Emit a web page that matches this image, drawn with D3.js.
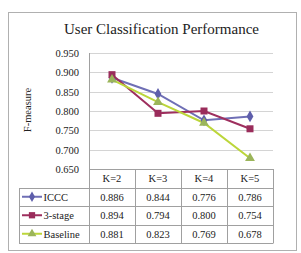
<!DOCTYPE html>
<html><head><meta charset="utf-8">
<script src="https://cdn.jsdelivr.net/npm/d3@7"></script>
<style>body{margin:0;background:#fff}svg{display:block}svg text{font-family:'Liberation Serif','Times New Roman',Tinos !important;fill:#222}</style>
</head><body>
<script>
const categories = ["K=2","K=3","K=4","K=5"];
const seriesNames = ["ICCC","3-stage","Baseline"];
const iccc = [0.886,0.844,0.776,0.786];
const stage3 = [0.894,0.794,0.800,0.754];
const baseline = [0.881,0.823,0.769,0.678];
const yTicks = [0.650,0.700,0.750,0.800,0.850,0.900,0.950];
const title = "User Classification Performance";
const yLabel = "F-measure";

const series = [
  {name: seriesNames[0], values: iccc, color: "#6f6fb5", mcolor: "#5e5eab", marker: "diamond"},
  {name: seriesNames[1], values: stage3, color: "#9e2f5e", mcolor: "#9a2c5b", marker: "square"},
  {name: seriesNames[2], values: baseline, color: "#bcd63a", mcolor: "#9bb55a", marker: "triangle"}
];

const W = 301, H = 253;
const svg = d3.select("body").append("svg").attr("width", W).attr("height", H);

svg.append("rect").attr("x", 8.5).attr("y", 12.5).attr("width", 288).attr("height", 238)
  .attr("fill", "#fff").attr("stroke", "#b0b0b0");

const plotL = 89, plotR = 273, plotT = 53, plotB = 169;
const x = d3.scaleBand().domain(categories).range([plotL, plotR]);
const y = d3.scaleLinear().domain([0.65, 0.95]).range([plotB, plotT]);

svg.append("text").attr("x", 161.5).attr("y", 34).attr("text-anchor", "middle")
  .style("font-size", "15px").text(title);

svg.append("g").selectAll("line").data(yTicks).join("line")
  .attr("x1", plotL).attr("x2", plotR)
  .attr("y1", d => Math.round(y(d)) + 0.5).attr("y2", d => Math.round(y(d)) + 0.5)
  .attr("stroke", "#d4d4d4");

const yAxis = d3.axisLeft(y).tickValues(yTicks).tickFormat(d3.format(".3f")).tickSize(0).tickPadding(10);
const ga = svg.append("g").attr("transform", `translate(${plotL},0)`).call(yAxis);
ga.attr("font-family", null);
ga.select(".domain").attr("stroke", "#a0a0a0").attr("d", `M0.5,${plotT}V${plotB}`);
ga.selectAll("text").style("font-size", "10.5px").attr("fill", "#333");

svg.append("text").attr("transform", `translate(31,110) rotate(-90)`).attr("text-anchor", "middle")
  .style("font-size", "10.5px").text(yLabel);

const rowH = 18.5;
const tTop = plotB, tLeft = 19;
const tbl = svg.append("g");
tbl.append("line").attr("x1", plotL).attr("x2", plotR).attr("y1", tTop + 0.5).attr("y2", tTop + 0.5).attr("stroke", "#a0a0a0");
const rowsY = d3.range(4).map(i => tTop + rowH * (i + 1));
rowsY.forEach(ry => {
  tbl.append("line").attr("x1", tLeft).attr("x2", plotR).attr("y1", Math.round(ry) + 0.5).attr("y2", Math.round(ry) + 0.5).attr("stroke", "#a0a0a0");
});
const tBottom = Math.round(tTop + rowH * 4) + 0.5;
const colEdges = categories.map(c => x(c)).concat([plotR]);
colEdges.forEach(cx => {
  tbl.append("line").attr("x1", Math.round(cx) + 0.5).attr("x2", Math.round(cx) + 0.5)
    .attr("y1", tTop).attr("y2", tBottom).attr("stroke", "#a0a0a0");
});
tbl.append("line").attr("x1", tLeft + 0.5).attr("x2", tLeft + 0.5)
  .attr("y1", Math.round(tTop + rowH) + 0.5).attr("y2", tBottom).attr("stroke", "#a0a0a0");

tbl.selectAll("text.h").data(categories).join("text").attr("class", "h")
  .attr("x", d => x(d) + x.bandwidth() / 2).attr("y", tTop + rowH / 2 + 4)
  .attr("text-anchor", "middle").style("font-size", "10.5px").text(d => d);

function markerPath(type, small) {
  const k = small ? 0.8 : 1;
  if (type === "diamond") return d3.symbol(d3.symbolDiamond, 40 * k)();
  if (type === "square") return d3.symbol(d3.symbolSquare, 49 * k)();
  return d3.symbol(d3.symbolTriangle, 42 * k)();
}

series.forEach((s, i) => {
  const ry = tTop + rowH * (i + 1);
  const cy = ry + rowH / 2;
  tbl.selectAll(null).data(s.values).join("text")
    .attr("x", (d, j) => x(categories[j]) + x.bandwidth() / 2).attr("y", cy + 4)
    .attr("text-anchor", "middle").style("font-size", "10.5px").text(d => d3.format(".3f")(d));
  tbl.append("line").attr("x1", 22).attr("x2", 42).attr("y1", cy).attr("y2", cy)
    .attr("stroke", s.color).attr("stroke-width", 2);
  tbl.append("path").attr("d", markerPath(s.marker, true)).attr("transform", `translate(32,${cy})`)
    .attr("fill", s.mcolor);
  tbl.append("text").attr("x", 43.5).attr("y", cy + 4).style("font-size", "10.5px").text(s.name);
});

const line = d3.line().x((d, j) => x(categories[j]) + x.bandwidth() / 2).y(d => y(d));
series.forEach(s => {
  svg.append("path").attr("d", line(s.values)).attr("fill", "none")
    .attr("stroke", s.color).attr("stroke-width", 2);
});
series.forEach(s => {
  svg.append("g").selectAll("path").data(s.values).join("path")
    .attr("d", markerPath(s.marker))
    .attr("transform", (d, j) => `translate(${x(categories[j]) + x.bandwidth() / 2},${y(d)})`)
    .attr("fill", s.mcolor);
});
</script>
</body></html>
